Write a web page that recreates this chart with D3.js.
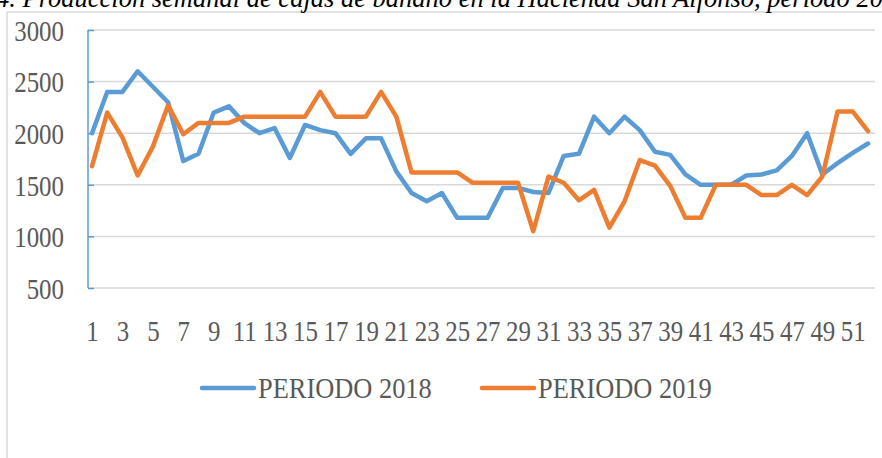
<!DOCTYPE html>
<html lang="es">
<head>
<meta charset="UTF-8">
<title>Producción semanal de cajas de banano</title>
<script src="https://d3js.org/d3.v7.min.js"></script>
<style>
    body { margin: 0; background: #fff; }
    .tick text { font-family: "Liberation Serif", serif; font-size: 30px; fill: #595959; }
</style>
</head>
<body>
<div id="chart"></div>
<script>
    var weeks = d3.range(1, 53);
    var xTickLabels = d3.range(1, 52, 2);
    var yTickLabels = [500, 1000, 1500, 2000, 2500, 3000];
    var seriesNames = ["PERIODO 2018", "PERIODO 2019"];
    var periodo2018 = [2000, 2400, 2400, 2600, 2450, 2300, 1730, 1800, 2200, 2260, 2100, 2000, 2050, 1760,
        2080, 2030, 2000, 1800, 1950, 1950, 1630, 1420, 1340, 1420, 1180, 1180, 1180, 1470, 1470, 1430,
        1420, 1780, 1800, 2160, 2000, 2160, 2030, 1820, 1790, 1600, 1500, 1500, 1500, 1590, 1600, 1640,
        1780, 2000, 1600, 1710, 1810, 1900];
    var periodo2019 = [1680, 2200, 1960, 1590, 1870, 2270, 1990, 2100, 2100, 2100, 2160, 2160, 2160, 2160,
        2160, 2400, 2160, 2160, 2160, 2400, 2160, 1620, 1620, 1620, 1620, 1520, 1520, 1520, 1520, 1050,
        1580, 1520, 1350, 1450, 1085, 1340, 1740, 1685, 1490, 1180, 1180, 1500, 1500, 1500, 1400, 1400,
        1500, 1400, 1580, 2210, 2210, 2020];
    var colors = ["#5b9bd5", "#ed7d31"];

    var W = 882, H = 458;
    var sx = 0.83; // the labels in the picture are narrow and tall

    var svg = d3.select("#chart").append("svg")
        .attr("width", W)
        .attr("height", H);

    // chart frame (only top and left edges are visible in the crop)
    svg.append("line").attr("x1", 7).attr("x2", W).attr("y1", 12).attr("y2", 12)
        .attr("stroke", "#d9d9d9").attr("stroke-width", 1.5);
    svg.append("line").attr("x1", 7).attr("x2", 7).attr("y1", 12).attr("y2", H)
        .attr("stroke", "#d9d9d9").attr("stroke-width", 1.5);

    // title, cut at the top edge like in the source
    svg.append("text")
        .attr("x", -4)
        .attr("y", 7)
        .style("font-family", "Liberation Serif, serif")
        .style("font-style", "italic")
        .style("font-size", "26.5px")
        .style("fill", "#000")
        .text("4. Producción semanal de cajas de banano en la Hacienda San Alfonso, periodo 2018-2019");

    var x = d3.scalePoint().domain(weeks).range([92, 868]);
    var y = d3.scaleLinear().domain([500, 3000]).range([288, 30]);

    // gridlines
    svg.append("g")
        .selectAll("line")
        .data(yTickLabels)
        .enter()
        .append("line")
        .attr("x1", 88).attr("x2", 875)
        .attr("y1", function (d) { return y(d); })
        .attr("y2", function (d) { return y(d); })
        .attr("stroke", "#d9d9d9")
        .attr("stroke-width", 1.5);

    // y axis: blue line, ticks pointing inwards
    var yAxis = svg.append("g")
        .attr("transform", "translate(88,0)")
        .call(d3.axisRight(y).tickValues(yTickLabels).tickSize(6).tickFormat(""));
    yAxis.selectAll("path, line").attr("stroke", "#5b9bd5").attr("stroke-width", 1.5);
    yAxis.select(".domain").attr("d", "M0," + y(3000) + "V" + y(500));

    var yLabels = svg.append("g")
        .attr("transform", "translate(64,0)")
        .call(d3.axisLeft(y).tickValues(yTickLabels).tickSize(0).tickPadding(0).tickFormat(d3.format("d")));
    yLabels.select(".domain").remove();
    yLabels.selectAll("text")
        .attr("x", 0)
        .attr("dy", "0.34em")
        .attr("transform", "scale(" + sx + ",1)");

    // x labels
    var xLabels = svg.append("g")
        .attr("transform", "translate(0,319)")
        .call(d3.axisBottom(x).tickValues(xTickLabels).tickSize(0).tickPadding(0));
    xLabels.select(".domain").remove();
    xLabels.selectAll("text")
        .attr("dy", "0.72em")
        .attr("transform", "scale(" + sx + ",1)");

    // lines
    var line = d3.line()
        .x(function (d, i) { return x(weeks[i]); })
        .y(function (d) { return y(d); });

    [periodo2018, periodo2019].forEach(function (vals, k) {
        svg.append("path")
            .datum(vals)
            .attr("d", line)
            .attr("fill", "none")
            .attr("stroke", colors[k])
            .attr("stroke-width", 4.5)
            .attr("stroke-linejoin", "round")
            .attr("stroke-linecap", "round");
    });

    // legend
    var legendX = [200, 480];
    var legend = svg.selectAll(".legend")
        .data(seriesNames)
        .enter()
        .append("g")
        .attr("class", "legend")
        .attr("transform", function (d, i) { return "translate(" + legendX[i] + ",388)"; });

    legend.append("line")
        .attr("x1", 2).attr("x2", 54)
        .attr("y1", 0).attr("y2", 0)
        .attr("stroke", function (d, i) { return colors[i]; })
        .attr("stroke-width", 4.5)
        .attr("stroke-linecap", "round");

    legend.append("text")
        .attr("x", 58 / 0.88)
        .attr("y", 0)
        .attr("dy", "0.34em")
        .attr("transform", "scale(0.88,1)")
        .style("font-family", "Liberation Serif, serif")
        .style("font-size", "30px")
        .style("fill", "#595959")
        .text(function (d) { return d; });
</script>
</body>
</html>
